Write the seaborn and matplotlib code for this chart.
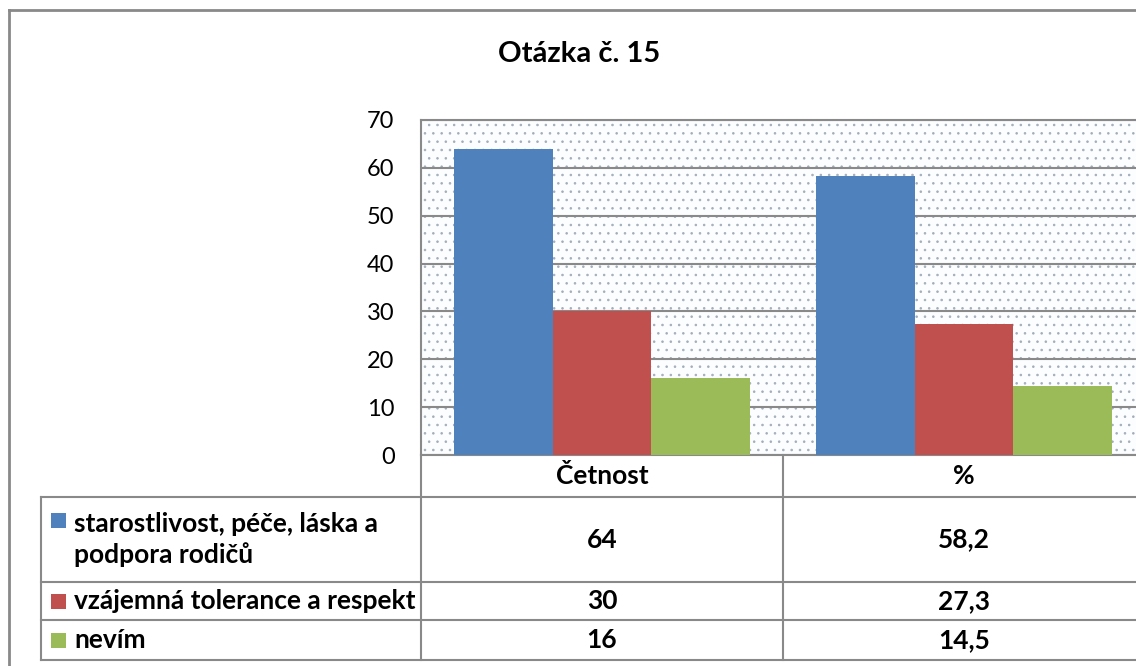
import pandas as pd
import matplotlib.pyplot as plt
import matplotlib.transforms as mtransforms
from matplotlib.lines import Line2D
from matplotlib.patches import Rectangle
import seaborn as sns

# data
kategorie = ['Četnost', '%']
odpovedi = ['starostlivost, péče, láska a\npodpora rodičů',
            'vzájemná tolerance a respekt',
            'nevím']
cetnost = [64, 30, 16]
procenta = [58.2, 27.3, 14.5]
barvy = ['#4F81BD', '#C0504D', '#9BBB59']
y_ticks = [0, 10, 20, 30, 40, 50, 60, 70]

plt.rcParams['font.family'] = ['Lato', 'DejaVu Sans']
plt.rcParams['hatch.linewidth'] = 0.6

df = pd.DataFrame({
    'kategorie': [kategorie[0]] * 3 + [kategorie[1]] * 3,
    'odpoved': odpovedi + odpovedi,
    'hodnota': cetnost + procenta,
})

W, H = 1136, 666
fig = plt.figure(figsize=(W / 100, H / 100), dpi=100)
fig.patch.set_facecolor('white')

# plot area (runs past the right edge, like the source)
x0, x1, ytop, ybot = 421, 1145, 120, 455
ax = fig.add_axes([x0 / W, 1 - ybot / H, (x1 - x0) / W, (ybot - ytop) / H])

sns.barplot(data=df, x='kategorie', y='hodnota', hue='odpoved',
            order=kategorie, hue_order=odpovedi, palette=barvy,
            saturation=1, width=0.82, gap=0, linewidth=0,
            legend=False, ax=ax, zorder=3)

grey = '#898989'
ax.set_xlim(-0.5, 1.5)
ax.set_ylim(0, 70)
ax.set_yticks(y_ticks)
ax.tick_params(axis='y', length=0, pad=19, labelsize=17)
ax.set_xticks([])
ax.set_xlabel('')
ax.set_ylabel('')
ax.yaxis.grid(True, color=grey, linewidth=1.5, zorder=1)
ax.set_axisbelow(True)
for s in ['left', 'top', 'bottom']:
    ax.spines[s].set_color(grey)
    ax.spines[s].set_linewidth(1.5)
ax.spines['right'].set_visible(False)

# dotted plot-area fill
ax.patch.set_facecolor('#fbfdff')
ax.patch.set_edgecolor('#a3adb8')
ax.patch.set_linewidth(0)
ax.patch.set_hatch('..')

# title
fig.text(579 / W, 1 - 54 / H, 'Otázka č. 15', ha='center', va='center',
         fontsize=21, fontweight='bold')

# data table
def fy(p):
    return (ybot - p) / (ybot - ytop)

rows = [455, 497, 582, 620, 660]
left_ax = (41 - x0) / (x1 - x0)
bt = mtransforms.blended_transform_factory(ax.transData, ax.transAxes)
tl = dict(color=grey, linewidth=1.5, clip_on=False)

for r in rows[1:]:
    ax.add_line(Line2D([left_ax, 1.0], [fy(r)] * 2, transform=ax.transAxes, **tl))
for xb in [-0.5, 0.5, 1.5]:
    ax.add_line(Line2D([xb, xb], [fy(rows[0]), fy(rows[-1])], transform=bt, **tl))
ax.add_line(Line2D([left_ax, left_ax], [fy(rows[1]), fy(rows[-1])],
                   transform=ax.transAxes, **tl))

fs = 19
for i, k in enumerate(kategorie):
    ax.text(i, fy((rows[0] + rows[1]) / 2), k, transform=bt, ha='center',
            va='center', fontsize=fs, fontweight='bold')

hodnoty = [[str(v) for v in cetnost],
           [f'{v:.1f}'.replace('.', ',') for v in procenta]]
key_x = (51 - x0) / (x1 - x0)
txt_x = (74 - x0) / (x1 - x0)
for j, lab in enumerate(odpovedi):
    yc = fy((rows[j + 1] + rows[j + 2]) / 2)
    for i in range(len(kategorie)):
        ax.text(i, yc, hodnoty[i][j], transform=bt, ha='center', va='center',
                fontsize=fs, fontweight='bold')
    first = fy(520) if '\n' in lab else yc
    ax.add_patch(Rectangle((key_x, first - 0.024), 15 / (x1 - x0), 0.045,
                           transform=ax.transAxes, color=barvy[j],
                           clip_on=False, linewidth=0))
    ax.text(txt_x, yc, lab, transform=ax.transAxes, ha='left', va='center',
            fontsize=fs, fontweight='bold', linespacing=1.3)

# outer chart frame
fig.add_artist(Line2D([9 / W, 1], [1 - 10 / H] * 2, color=grey, linewidth=2))
fig.add_artist(Line2D([9 / W] * 2, [1 - 10 / H, 0], color=grey, linewidth=2))

fig.savefig('out.png', dpi=100)
